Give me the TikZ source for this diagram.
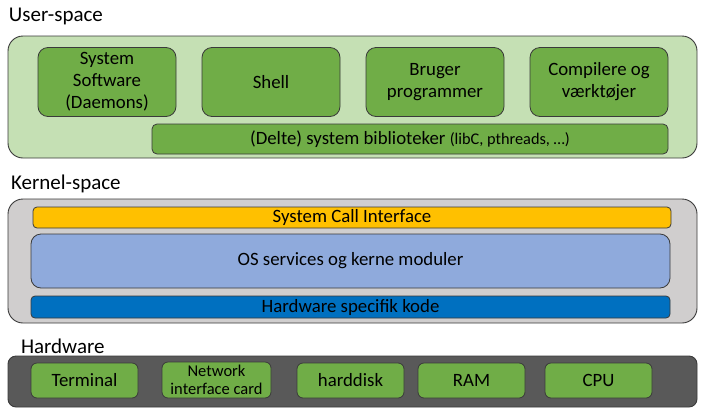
\documentclass[tikz,border=0pt]{standalone}
\usepackage{fontspec}
\setmainfont{Carlito}
\definecolor{ulight}{HTML}{C5E0B4}
\definecolor{ugreen}{HTML}{70AD47}
\definecolor{kgray}{HTML}{D0CECE}
\definecolor{kyellow}{HTML}{FFC000}
\definecolor{kblue}{HTML}{8FAADC}
\definecolor{kdark}{HTML}{0070C0}
\definecolor{hdark}{HTML}{595959}
\definecolor{edge}{HTML}{3A3A3A}
\begin{document}
\begin{tikzpicture}[x=1pt,y=-1pt,
  every node/.style={inner sep=0pt, outer sep=0pt, align=center, text=black},
  region/.style={draw=edge, line width=0.9pt, rounded corners=#1},
  region/.default=15pt,
  item/.style={draw=edge, line width=0.8pt, fill=ugreen, rounded corners=#1, font=\fontsize{18.8}{22}\selectfont},
  item/.default=10pt,
  header/.style={anchor=west, font=\fontsize{21}{25}\selectfont}]
\useasboundingbox (0,0) rectangle (704,413);
% user space
\node[header] (uhead) at (9,16) {User-space};
\node[region, fill=ulight, minimum width=689pt, minimum height=122pt] (ubox) at (352.5,97) {};
\node[item, minimum width=138pt, minimum height=69pt] (sys) at (107,82) {System\\Software\\(Daemons)};
\node[item, minimum width=138pt, minimum height=69pt] (shell) at (271,82) {Shell};
\node[item, minimum width=138pt, minimum height=69pt] (bruger) at (435,82) {Bruger\\programmer};
\node[item, minimum width=138pt, minimum height=69pt] (comp) at (599,82) {Compilere og\\værktøjer};
\node[item=5pt, minimum width=516pt, minimum height=30pt] (libs) at (410,139) {(Delte) system biblioteker {\fontsize{16.3}{18}\selectfont (libC, pthreads, …)}};
% kernel space
\node[header] (khead) at (11,184) {Kernel-space};
\node[region, fill=kgray, minimum width=689pt, minimum height=124pt] (kbox) at (352.5,261) {};
\node[item=4pt, fill=kyellow, minimum width=638pt, minimum height=21pt] (sci) at (352,217.5) {System Call Interface};
\node[item=10pt, fill=kblue, minimum width=639pt, minimum height=54pt] (os) at (350.5,261) {OS services og kerne moduler};
\node[item=4pt, fill=kdark, minimum width=639pt, minimum height=22pt] (hwk) at (350.5,307) {Hardware specifik kode};
% hardware
\node[header] (hhead) at (21,346) {Hardware};
\node[region=8pt, fill=hdark, minimum width=689pt, minimum height=51pt] (hbox) at (352.5,381.5) {};
\node[item=6pt, minimum width=107pt, minimum height=35pt] (term) at (84.5,380.5) {Terminal};
\node[item=6pt, minimum width=109pt, minimum height=36pt, font=\fontsize{16.5}{17.5}\selectfont] (nic) at (216.5,380) {Network\\interface card};
\node[item=6pt, minimum width=107pt, minimum height=35pt] (hdd) at (350.5,380.5) {harddisk};
\node[item=6pt, minimum width=107pt, minimum height=35pt] (ram) at (471.5,380.5) {RAM};
\node[item=6pt, minimum width=107pt, minimum height=35pt] (cpu) at (598.5,380.5) {CPU};
\end{tikzpicture}
\end{document}
